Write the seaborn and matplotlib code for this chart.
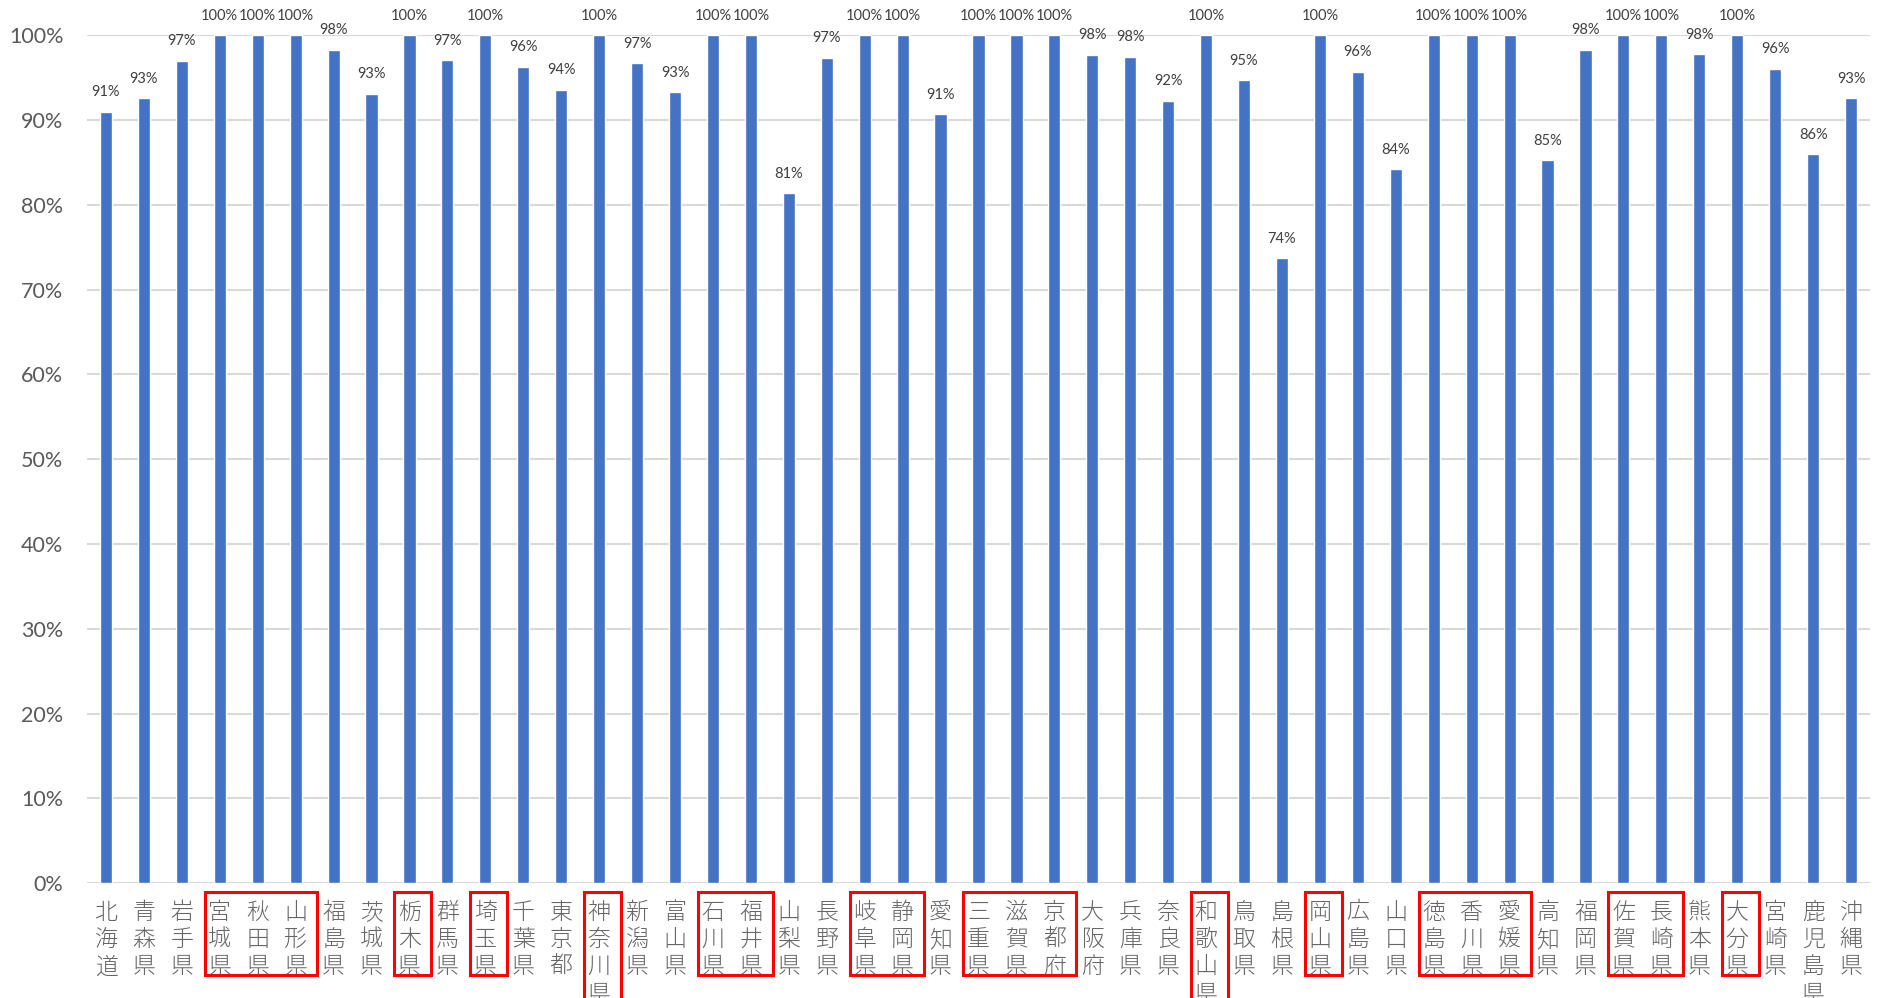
import pandas as pd
import numpy as np
import matplotlib.pyplot as plt
import seaborn as sns
from matplotlib.patches import Rectangle

# Data
prefectures = ['北海道', '青森県', '岩手県', '宮城県', '秋田県', '山形県', '福島県', '茨城県',
               '栃木県', '群馬県', '埼玉県', '千葉県', '東京都', '神奈川県', '新潟県', '富山県',
               '石川県', '福井県', '山梨県', '長野県', '岐阜県', '静岡県', '愛知県', '三重県',
               '滋賀県', '京都府', '大阪府', '兵庫県', '奈良県', '和歌山県', '鳥取県', '島根県',
               '岡山県', '広島県', '山口県', '徳島県', '香川県', '愛媛県', '高知県', '福岡県',
               '佐賀県', '長崎県', '熊本県', '大分県', '宮崎県', '鹿児島県', '沖縄県']
rates = [91.0, 92.6, 97.0, 100, 100, 100, 98.3, 93.1,
         100, 97.1, 100, 96.3, 93.6, 100, 96.7, 93.3,
         100, 100, 81.4, 97.4, 100, 100, 90.7, 100,
         100, 100, 97.7, 97.5, 92.3, 100, 94.7, 73.7,
         100, 95.7, 84.2, 100, 100, 100, 85.3, 98.3,
         100, 100, 97.8, 100, 96.1, 86.0, 92.6]

# prefectures highlighted with red boxes
highlight_groups = [['宮城県', '秋田県', '山形県'], ['栃木県'], ['埼玉県'], ['神奈川県'],
                    ['石川県', '福井県'], ['岐阜県', '静岡県'], ['三重県', '滋賀県', '京都府'],
                    ['和歌山県'], ['岡山県'], ['徳島県', '香川県', '愛媛県'],
                    ['佐賀県', '長崎県'], ['大分県']]

df = pd.DataFrame({'pref': prefectures, 'rate': rates})

sns.set_theme(style='white')
plt.rcParams['font.family'] = ['Lato', 'Noto Sans CJK JP', 'DejaVu Sans']

fig = plt.figure(figsize=(18.79, 9.98), dpi=100)
ax = fig.add_axes([87 / 1879, 115 / 998, 1783 / 1879, 847.5 / 998])

sns.barplot(data=df, x='pref', y='rate', color='#4472C4', saturation=1,
            width=0.32, ax=ax)

ax.set_ylim(0, 100)
ax.set_xlim(-0.5, len(prefectures) - 0.5)
ax.set_yticks(np.arange(0, 101, 10))
ax.set_yticklabels([f'{t}%' for t in range(0, 101, 10)], fontsize=15.5, color='#595959')
ax.yaxis.grid(True, color='#D9D9D9', linewidth=1.5)
ax.set_axisbelow(True)
for s in ax.spines.values():
    s.set_visible(False)
ax.tick_params(axis='y', length=0, pad=17)
ax.tick_params(axis='x', length=0, pad=12)
ax.set_xlabel('')
ax.set_ylabel('')

# vertical Japanese labels
ax.set_xticks(range(len(prefectures)))
ax.set_xticklabels(['\n'.join(p) for p in prefectures], family=['Noto Sans CJK JP'],
                   fontsize=16.5, color='#666666', linespacing=1.12, va='top',
                   fontweight='light')

# data labels
ax.bar_label(ax.containers[0], labels=[f'{v:.0f}%' for v in rates],
             padding=9, fontsize=10.5, color='#404040')

# red boxes
trans = ax.get_xaxis_transform()
for grp in highlight_groups:
    i0 = prefectures.index(grp[0])
    i1 = prefectures.index(grp[-1])
    long_label = max(len(p) for p in grp) > 3
    y_top = -0.0106
    y_bot = -0.25 if long_label else -0.1085
    ax.add_patch(Rectangle((i0 - 0.4, y_bot), (i1 - i0) + 0.97, y_top - y_bot,
                           transform=trans, fill=False, edgecolor='#FF0000',
                           linewidth=2.2, clip_on=False))

fig.savefig('out.png', dpi=100)
